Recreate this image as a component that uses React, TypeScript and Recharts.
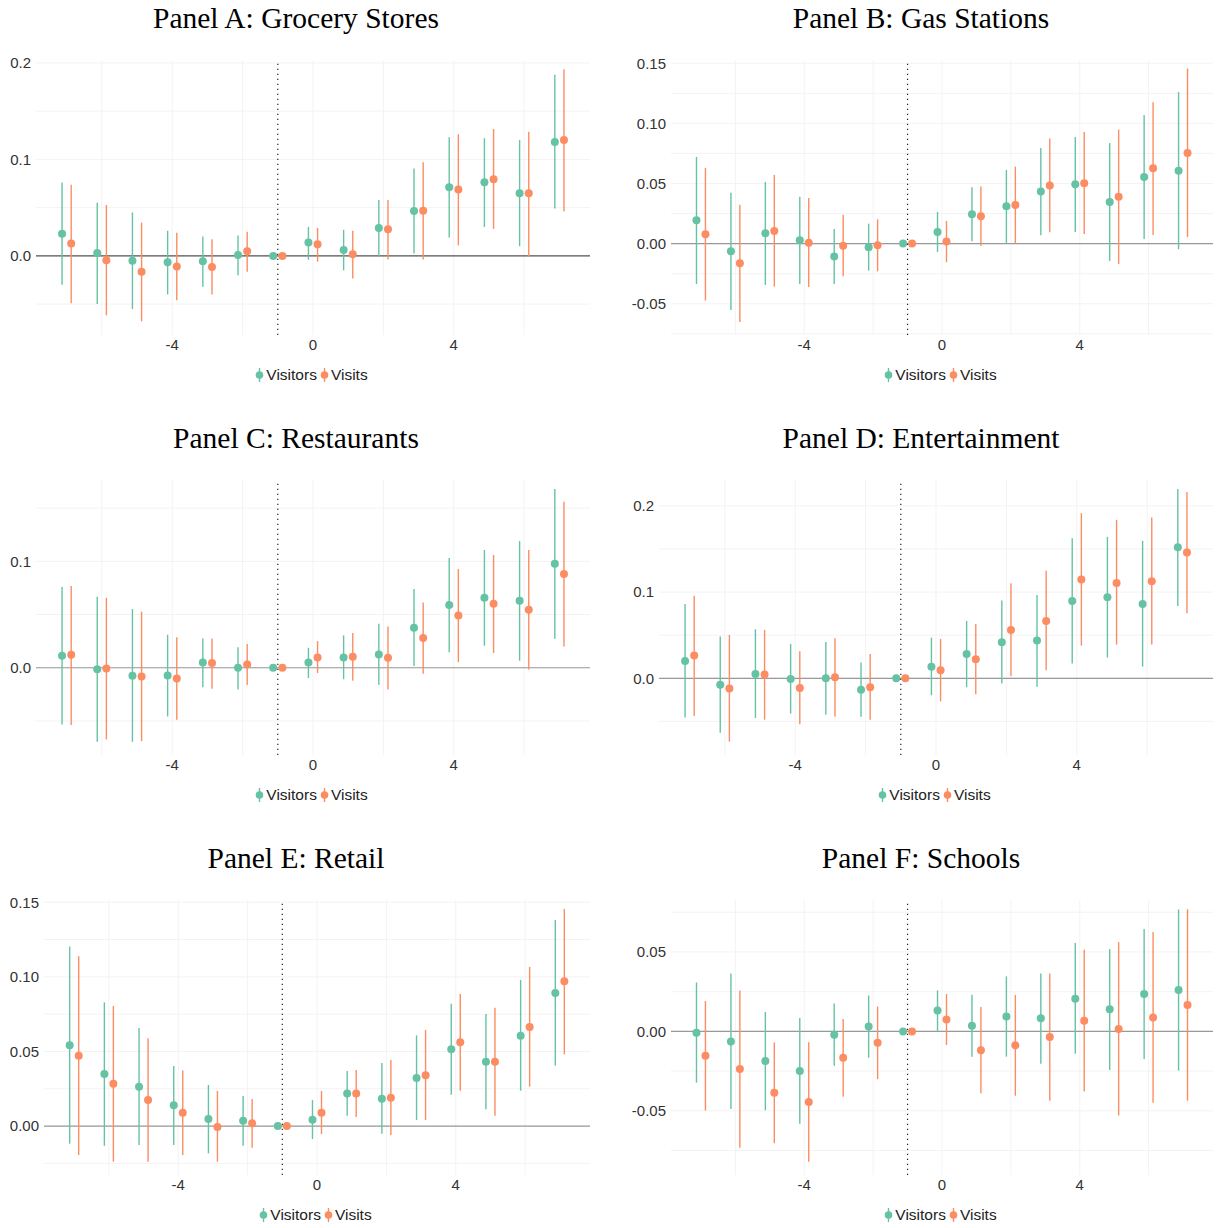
import React from "react";
import {
  ComposedChart,
  Scatter,
  ErrorBar,
  XAxis,
  YAxis,
  CartesianGrid,
  ReferenceLine,
} from "recharts";

// event time (relative to opening), -1 is the omitted reference period
const EVENT_TIME = [-7, -6, -5, -4, -3, -2, -1, 0, 1, 2, 3, 4, 5, 6, 7];

// Panel A: Grocery Stores
const groceryVisitors = [0.023, 0.003, -0.005, -0.0065, -0.0055, 0.001, 0, 0.0138, 0.006, 0.029, 0.0465, 0.071, 0.0764, 0.065, 0.118];
const groceryVisitorsLo = [-0.03, -0.05, -0.055, -0.04, -0.032, -0.02, 0, -0.004, -0.015, -0.001, 0.0024, 0.019, 0.03, 0.01, 0.049];
const groceryVisitorsHi = [0.076, 0.055, 0.045, 0.026, 0.02, 0.021, 0, 0.03, 0.027, 0.058, 0.0905, 0.123, 0.122, 0.12, 0.1876];
const groceryVisits = [0.0127, -0.0045, -0.0165, -0.011, -0.0114, 0.0048, 0, 0.012, 0.0017, 0.0275, 0.0468, 0.0688, 0.0795, 0.065, 0.12];
const groceryVisitsLo = [-0.049, -0.0616, -0.0678, -0.046, -0.04, -0.0165, 0, -0.006, -0.0234, -0.0038, -0.0038, 0.011, 0.028, 0.0, 0.046];
const groceryVisitsHi = [0.0737, 0.0527, 0.0344, 0.024, 0.0172, 0.025, 0, 0.029, 0.026, 0.058, 0.097, 0.126, 0.1315, 0.1287, 0.1935];

// Panel B: Gas Stations
const gasVisitors = [0.0194, -0.0064, 0.0086, 0.0028, -0.0108, -0.003, 0, 0.0097, 0.0244, 0.031, 0.0433, 0.0494, 0.0347, 0.0555, 0.0607];
const gasVisitorsLo = [-0.0336, -0.0552, -0.0344, -0.0336, -0.0336, -0.0225, 0, -0.007, 0.002, 0.0, 0.007, 0.0097, -0.0144, 0.0039, -0.0047];
const gasVisitorsHi = [0.0721, 0.0422, 0.0513, 0.039, 0.0122, 0.0166, 0, 0.0263, 0.0469, 0.0613, 0.0796, 0.0887, 0.0837, 0.107, 0.126];
const gasVisits = [0.0078, -0.0164, 0.0105, 0.0008, -0.0017, -0.0014, 0, 0.0017, 0.0227, 0.0322, 0.0483, 0.0502, 0.039, 0.0627, 0.0754];
const gasVisitsLo = [-0.0474, -0.0652, -0.0358, -0.036, -0.0272, -0.023, 0, -0.0155, -0.0017, 0.0, 0.0094, 0.008, -0.0169, 0.0072, 0.0055];
const gasVisitsHi = [0.063, 0.0324, 0.0571, 0.038, 0.0241, 0.0202, 0, 0.0189, 0.0474, 0.064, 0.0874, 0.0929, 0.0948, 0.1176, 0.1456];

// Panel C: Restaurants
const restVisitors = [0.0113, -0.0013, -0.0075, -0.0072, 0.005, 0.0, 0, 0.005, 0.0097, 0.0125, 0.0376, 0.0589, 0.0658, 0.063, 0.0978];
const restVisitorsLo = [-0.0533, -0.0696, -0.0696, -0.0458, -0.0182, -0.0204, 0, -0.0097, -0.0107, -0.0163, 0.0016, 0.0147, 0.0207, 0.0066, 0.0273];
const restVisitorsHi = [0.0759, 0.0668, 0.0552, 0.031, 0.0276, 0.0194, 0, 0.0188, 0.0304, 0.0414, 0.074, 0.1031, 0.1107, 0.1191, 0.168];
const restVisits = [0.0122, -0.0006, -0.0082, -0.01, 0.0044, 0.0031, 0, 0.0097, 0.0103, 0.0094, 0.0279, 0.0492, 0.0602, 0.0545, 0.0881];
const restVisitsLo = [-0.0539, -0.0674, -0.069, -0.0489, -0.0197, -0.0163, 0, -0.005, -0.0122, -0.0204, -0.0056, 0.0053, 0.0138, -0.0016, 0.0201];
const restVisitsHi = [0.0768, 0.0658, 0.0527, 0.0288, 0.0276, 0.0223, 0, 0.0251, 0.0326, 0.0389, 0.0614, 0.0928, 0.106, 0.1107, 0.1561];

// Panel D: Entertainment
const entVisitors = [0.0201, -0.0074, 0.005, -0.0008, 0.0, -0.0132, 0, 0.0135, 0.0282, 0.0418, 0.0437, 0.0897, 0.094, 0.0863, 0.152];
const entVisitorsLo = [-0.0456, -0.0631, -0.046, -0.041, -0.0422, -0.0445, 0, -0.0197, -0.0104, -0.0062, -0.0097, 0.017, 0.024, 0.0135, 0.0839];
const entVisitorsHi = [0.0863, 0.0484, 0.0569, 0.0398, 0.0422, 0.0182, 0, 0.0472, 0.0665, 0.0901, 0.0967, 0.1625, 0.164, 0.1594, 0.2197];
const entVisits = [0.0263, -0.012, 0.0043, -0.0112, 0.0012, -0.0104, 0, 0.0093, 0.022, 0.0561, 0.0665, 0.1145, 0.1106, 0.1126, 0.1458];
const entVisitsLo = [-0.0437, -0.0735, -0.048, -0.0534, -0.0445, -0.048, 0, -0.0267, -0.0186, 0.0023, 0.0093, 0.0379, 0.0391, 0.0391, 0.0754];
const entVisitsHi = [0.0956, 0.0503, 0.0561, 0.0313, 0.0464, 0.0282, 0, 0.0456, 0.0631, 0.1103, 0.1246, 0.1915, 0.1838, 0.1865, 0.2162];

// Panel E: Retail
const retailVisitors = [0.0541, 0.0349, 0.0264, 0.0139, 0.0047, 0.0036, 0, 0.0042, 0.0219, 0.0183, 0.0322, 0.0514, 0.0431, 0.0606, 0.0892];
const retailVisitorsLo = [-0.0118, -0.0132, -0.0127, -0.0127, -0.0183, -0.0132, 0, -0.0087, 0.0069, -0.0051, 0.004, 0.021, 0.0112, 0.0237, 0.0405];
const retailVisitorsHi = [0.1203, 0.0829, 0.0657, 0.0402, 0.0275, 0.0201, 0, 0.0174, 0.0369, 0.0422, 0.0608, 0.082, 0.0751, 0.0979, 0.1381];
const retailVisits = [0.0472, 0.0284, 0.0174, 0.0089, -0.0007, 0.0018, 0, 0.0089, 0.0219, 0.019, 0.034, 0.0561, 0.0431, 0.0664, 0.097];
const retailVisitsLo = [-0.0194, -0.0239, -0.0239, -0.0194, -0.0239, -0.0145, 0, -0.0054, 0.006, -0.006, 0.004, 0.0237, 0.0069, 0.0264, 0.0481];
const retailVisitsHi = [0.1138, 0.0805, 0.0588, 0.0373, 0.0235, 0.0181, 0, 0.0235, 0.0376, 0.0443, 0.0644, 0.0885, 0.0793, 0.1066, 0.1455];

// Panel F: Schools
const schoolVisitors = [-0.0008, -0.0063, -0.0187, -0.0249, -0.0021, 0.0031, 0, 0.0132, 0.0036, 0.0094, 0.0082, 0.0205, 0.014, 0.0235, 0.026];
const schoolVisitorsLo = [-0.0323, -0.0488, -0.0497, -0.0581, -0.0216, -0.0166, 0, 0.0, -0.0159, -0.0159, -0.0203, -0.014, -0.0243, -0.0174, -0.0247];
const schoolVisitorsHi = [0.0308, 0.0365, 0.0122, 0.0084, 0.0176, 0.0226, 0, 0.0258, 0.0231, 0.0346, 0.0365, 0.0556, 0.0518, 0.0644, 0.0767];
const schoolVisits = [-0.0153, -0.0237, -0.0386, -0.0444, -0.0166, -0.0071, 0, 0.0075, -0.0119, -0.0088, -0.0036, 0.0067, 0.0015, 0.0088, 0.0166];
const schoolVisitsLo = [-0.0499, -0.0732, -0.0704, -0.082, -0.0411, -0.03, 0, -0.0086, -0.039, -0.0405, -0.0436, -0.0379, -0.053, -0.0449, -0.0436];
const schoolVisitsHi = [0.0191, 0.0258, -0.0069, -0.0069, 0.0078, 0.0157, 0, 0.0235, 0.0153, 0.0229, 0.0365, 0.0514, 0.0562, 0.0625, 0.0769];

const X_TICKS = [-4, 0, 4];
const X_GRID = [-6, -4, -2, 0, 2, 4, 6];

const GREEN = "#66c2a5";
const ORANGE = "#fc8d62";
const SANS = "'Liberation Sans', Arial, sans-serif";
const SERIF = "'Liberation Serif', 'Times New Roman', serif";
const DODGE = 0.13;

function toPoints(est: number[], lo: number[], hi: number[], shift: number) {
  return EVENT_TIME.map((t, i) => ({
    x: t + shift,
    y: est[i],
    err: [est[i] - lo[i], hi[i] - est[i]],
  }));
}

const Dot = (color: string) => (props: any) =>
  <circle cx={props.cx} cy={props.cy} r={4} fill={color} />;

interface PanelProps {
  title: string;
  left: number;
  top: number;
  axisW: number;
  rightPad: number;
  yDomain: [number, number];
  yTicks: number[];
  yGrid: number[];
  digits: number;
  zeroColor: string;
  visitors: [number[], number[], number[]];
  visits: [number[], number[], number[]];
}

const W = 611;
const H = 420;
const PLOT_TOP = 60;
const PLOT_BOTTOM = 335;

function Panel(p: PanelProps) {
  const green = toPoints(p.visitors[0], p.visitors[1], p.visitors[2], -DODGE);
  const orange = toPoints(p.visits[0], p.visits[1], p.visits[2], DODGE);
  const plotCenter = (p.axisW + (W - p.rightPad)) / 2;
  const titleCenter = p.left < 300 ? 296 : 310;

  return (
    <div style={{ position: "absolute", left: p.left, top: p.top, width: W, height: H }}>
      <div
        style={{
          position: "absolute",
          left: titleCenter - 250,
          width: 500,
          top: 0,
          textAlign: "center",
          fontFamily: SERIF,
          fontSize: 29.5,
          color: "#000",
          lineHeight: "36px",
        }}
      >
        {p.title}
      </div>
      <ComposedChart
        width={W}
        height={H}
        margin={{ top: PLOT_TOP, right: p.rightPad, bottom: H - PLOT_BOTTOM - 30, left: 0 }}
        style={{ position: "absolute", left: 0, top: 0 }}
      >
        <CartesianGrid
          stroke="#f3f3f3"
          strokeWidth={1}
          verticalValues={X_GRID}
          horizontalValues={p.yGrid}
        />
        <XAxis
          type="number"
          dataKey="x"
          domain={[-7.87, 7.87]}
          ticks={X_TICKS}
          allowDataOverflow
          axisLine={false}
          tickLine={false}
          tickSize={0}
          tickMargin={4}
          height={30}
          tick={{ fontSize: 15, fill: "#333", fontFamily: SANS }}
        />
        <YAxis
          type="number"
          dataKey="y"
          domain={p.yDomain}
          ticks={p.yTicks}
          allowDataOverflow
          axisLine={false}
          tickLine={false}
          tickSize={0}
          tickMargin={5}
          width={p.axisW}
          tickFormatter={(v: number) => v.toFixed(p.digits)}
          tick={{ fontSize: 15, fill: "#333", fontFamily: SANS }}
        />
        <ReferenceLine y={0} stroke={p.zeroColor} strokeWidth={1.2} />
        <ReferenceLine x={-1} stroke="#222" strokeWidth={1.2} strokeDasharray="1.2 3.8" />
        <Scatter name="Visitors" data={green} fill={GREEN} shape={Dot(GREEN)} isAnimationActive={false}>
          <ErrorBar dataKey="err" direction="y" width={0} stroke={GREEN} strokeWidth={1.4} isAnimationActive={false} />
        </Scatter>
        <Scatter name="Visits" data={orange} fill={ORANGE} shape={Dot(ORANGE)} isAnimationActive={false}>
          <ErrorBar dataKey="err" direction="y" width={0} stroke={ORANGE} strokeWidth={1.4} isAnimationActive={false} />
        </Scatter>
      </ComposedChart>
      <div
        style={{
          position: "absolute",
          left: plotCenter - 150,
          width: 300,
          top: 366,
          display: "flex",
          justifyContent: "center",
          alignItems: "center",
          fontFamily: SANS,
          fontSize: 15.5,
          color: "#222",
        }}
      >
        {[["Visitors", GREEN], ["Visits", ORANGE]].map(([name, color]) => (
          <span key={name} style={{ display: "flex", alignItems: "center", marginRight: 3 }}>
            <svg width={9} height={16} style={{ marginRight: 2 }}>
              <line x1={4.5} x2={4.5} y1={1} y2={15} stroke={color} strokeWidth={1.4} />
              <circle cx={4.5} cy={8} r={3.8} fill={color} />
            </svg>
            {name}
          </span>
        ))}
      </div>
    </div>
  );
}

const PANELS: PanelProps[] = [
  {
    title: "Panel A: Grocery Stores", left: 0, top: 0, axisW: 36, rightPad: 21,
    yDomain: [-0.082, 0.203], yTicks: [0, 0.1, 0.2], yGrid: [-0.05, 0, 0.05, 0.1, 0.15, 0.2], digits: 1,
    zeroColor: "#555",
    visitors: [groceryVisitors, groceryVisitorsLo, groceryVisitorsHi],
    visits: [groceryVisits, groceryVisitsLo, groceryVisitsHi],
  },
  {
    title: "Panel B: Gas Stations", left: 611, top: 0, axisW: 60, rightPad: 9,
    yDomain: [-0.076, 0.1527], yTicks: [-0.05, 0, 0.05, 0.1, 0.15], yGrid: [-0.075, -0.05, -0.025, 0, 0.025, 0.05, 0.075, 0.1, 0.125, 0.15], digits: 2,
    zeroColor: "#999",
    visitors: [gasVisitors, gasVisitorsLo, gasVisitorsHi],
    visits: [gasVisits, gasVisitsLo, gasVisitsHi],
  },
  {
    title: "Panel C: Restaurants", left: 0, top: 420, axisW: 36, rightPad: 21,
    yDomain: [-0.082, 0.1765], yTicks: [0, 0.1], yGrid: [-0.05, 0, 0.05, 0.1, 0.15], digits: 1,
    zeroColor: "#999",
    visitors: [restVisitors, restVisitorsLo, restVisitorsHi],
    visits: [restVisits, restVisitsLo, restVisitsHi],
  },
  {
    title: "Panel D: Entertainment", left: 611, top: 420, axisW: 48, rightPad: 9,
    yDomain: [-0.089, 0.23], yTicks: [0, 0.1, 0.2], yGrid: [-0.05, 0, 0.05, 0.1, 0.15, 0.2], digits: 1,
    zeroColor: "#999",
    visitors: [entVisitors, entVisitorsLo, entVisitorsHi],
    visits: [entVisits, entVisitsLo, entVisitsHi],
  },
  {
    title: "Panel E: Retail", left: 0, top: 840, axisW: 44, rightPad: 21,
    yDomain: [-0.0328, 0.1515], yTicks: [0, 0.05, 0.1, 0.15], yGrid: [-0.025, 0, 0.025, 0.05, 0.075, 0.1, 0.125, 0.15], digits: 2,
    zeroColor: "#999",
    visitors: [retailVisitors, retailVisitorsLo, retailVisitorsHi],
    visits: [retailVisits, retailVisitsLo, retailVisitsHi],
  },
  {
    title: "Panel F: Schools", left: 611, top: 840, axisW: 60, rightPad: 9,
    yDomain: [-0.0904, 0.0827], yTicks: [-0.05, 0, 0.05], yGrid: [-0.075, -0.05, -0.025, 0, 0.025, 0.05, 0.075], digits: 2,
    zeroColor: "#999",
    visitors: [schoolVisitors, schoolVisitorsLo, schoolVisitorsHi],
    visits: [schoolVisits, schoolVisitsLo, schoolVisitsHi],
  },
];

export default function App() {
  return (
    <div
      style={{
        position: "absolute",
        left: 0,
        top: 0,
        width: 1222,
        height: 1228,
        overflow: "hidden",
        background: "#fff",
      }}
    >
      {PANELS.map((p) => (
        <Panel key={p.title} {...p} />
      ))}
    </div>
  );
}
